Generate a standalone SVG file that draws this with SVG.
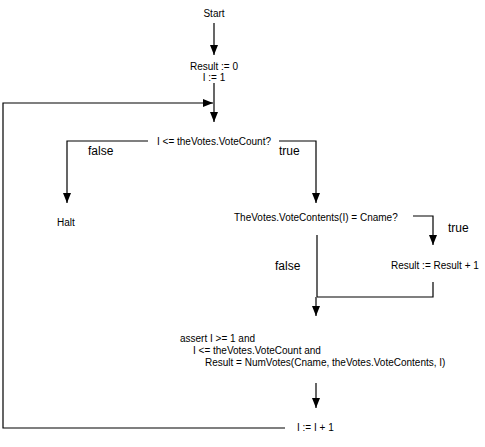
<svg xmlns="http://www.w3.org/2000/svg" width="485" height="447" viewBox="0 0 485 447">
<defs>
<marker id="ah" markerWidth="10" markerHeight="8" refX="10" refY="4" orient="auto" markerUnits="userSpaceOnUse">
<path d="M0,0 L10,4 L0,8 Z" fill="#000"/>
</marker>
<style>
.t{font-family:"Liberation Sans",Arial,sans-serif;font-size:10px;fill:#000}
.l{font-family:"Liberation Sans",Arial,sans-serif;font-size:12px;fill:#000}
.c{fill:none;stroke:#000;stroke-width:1.2}
</style>
</defs>
<rect width="485" height="447" fill="#fff"/>
<g id="connectors">
<path class="c" d="M214,23 V55" marker-end="url(#ah)"/>
<path class="c" d="M214,83 V122" marker-end="url(#ah)"/>
<path class="c" d="M285,428 H3 V103 H213" marker-end="url(#ah)"/>
<path class="c" d="M148,141 H67 V203" marker-end="url(#ah)"/>
<path class="c" d="M279,141 H316 V203" marker-end="url(#ah)"/>
<path class="c" d="M413,216 H433 V245" marker-end="url(#ah)"/>
<path class="c" d="M317,235 V297"/>
<path class="c" d="M433,282 V297 H317"/>
<path class="c" d="M316,297 V316" marker-end="url(#ah)"/>
<path class="c" d="M316,383 V408" marker-end="url(#ah)"/>
<text class="l" x="88" y="155">false</text>
<text class="l" x="279" y="155">true</text>
<text class="l" x="448" y="232">true</text>
<text class="l" x="275" y="270">false</text>
</g>
<g id="start"><text class="t" x="214" y="17" text-anchor="middle">Start</text></g>
<g id="init"><text class="t" x="214" y="70" text-anchor="middle">Result := 0</text><text class="t" x="214" y="81" text-anchor="middle">I := 1</text></g>
<g id="cond1"><text class="t" x="214" y="145" text-anchor="middle">I &lt;= theVotes.VoteCount?</text></g>
<g id="halt"><text class="t" x="57" y="226">Halt</text></g>
<g id="cond2"><text class="t" x="234" y="221">TheVotes.VoteContents(I) = Cname?</text></g>
<g id="inc"><text class="t" x="391" y="269">Result := Result + 1</text></g>
<g id="assert"><text class="t" x="180" y="342">assert I &gt;= 1 and</text><text class="t" x="193" y="354">I &lt;= theVotes.VoteCount and</text><text class="t" x="205" y="366">Result = NumVotes(Cname, theVotes.VoteContents, I)</text></g>
<g id="step"><text class="t" x="297" y="431">I := I + 1</text></g>
</svg>
